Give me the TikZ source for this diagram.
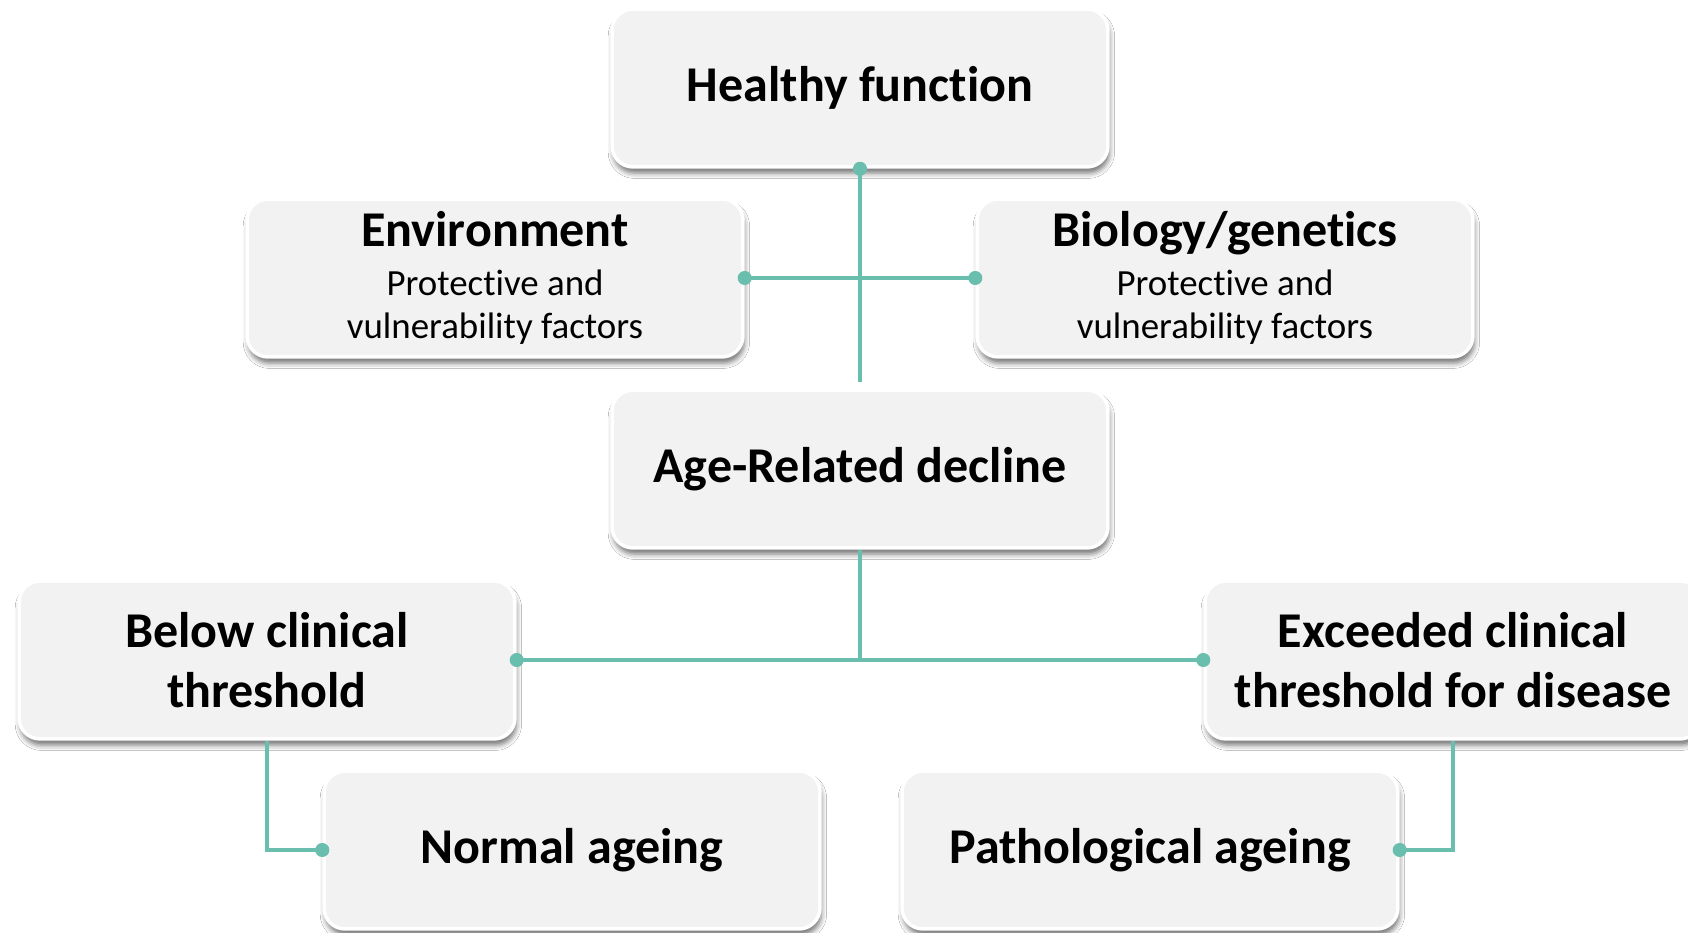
\documentclass[tikz,border=0pt]{standalone}
\usepackage{fontspec}
\setmainfont{Carlito}[Ligatures={TeX,NoCommon}]
\usetikzlibrary{shadows.blur}
\definecolor{boxfill}{HTML}{F2F2F2}
\definecolor{teal}{RGB}{106,190,174}
\newcommand{\ttl}[1]{{\fontsize{28.5}{34.3}\selectfont\bfseries #1}}
\tikzset{
  box/.style={rounded corners=12pt, fill=boxfill, draw=white, line width=2pt,
    minimum width=9.92cm, minimum height=3.16cm, align=center, inner sep=0pt,
    blur shadow={shadow xshift=0.8pt, shadow yshift=-3.5pt, shadow blur radius=3pt, shadow opacity=55},
    font=\fontsize{28.5}{34.3}\selectfont\bfseries},
  subbox/.style={box, font=\fontsize{21}{24.5}\selectfont\mdseries},
  link/.style={draw=teal, line width=1.8pt},
  dot/.style={fill=teal, draw=none}
}
\begin{document}
\begin{tikzpicture}[x=0.02cm,y=-0.02cm]
\clip (0,0) rectangle (1688,933);
\fill[white] (0,0) rectangle (1688,933);
\node[box] (hf) at (860,88) {Healthy function};
\node[subbox] (env) at (495,278) {\ttl{Environment}\\[3pt]Protective and\\vulnerability factors};
\node[subbox] (bio) at (1225,278) {\ttl{Biology/genetics}\\[3pt]Protective and\\vulnerability factors};
\node[box] (age) at (860,469) {Age-Related decline};
\node[box] (below) at (267,660) {Below clinical\\threshold};
\node[box] (exc) at (1453,660) {Exceeded clinical\\threshold for disease};
\node[box] (norm) at (572,850) {Normal ageing};
\node[box] (path) at (1150,850) {Pathological ageing};
\coordinate (hfend) at (860,382);
% connectors
\draw[link] (hf.south) -- (hfend);
\draw[link] (env.east) -- (bio.west);
\draw[link] (age.south) -- (age.south |- below.east);
\draw[link] (below.east) -- (exc.west);
\draw[link] (below.south) -- (below.south |- norm.west) -- (norm.west);
\draw[link] (exc.south) -- (exc.south |- path.east) -- (path.east);
% dots
\foreach \p in {hf.south, env.east, bio.west, below.east, exc.west, norm.west, path.east}
  \fill[dot] (\p) circle (4pt);
\end{tikzpicture}
\end{document}
